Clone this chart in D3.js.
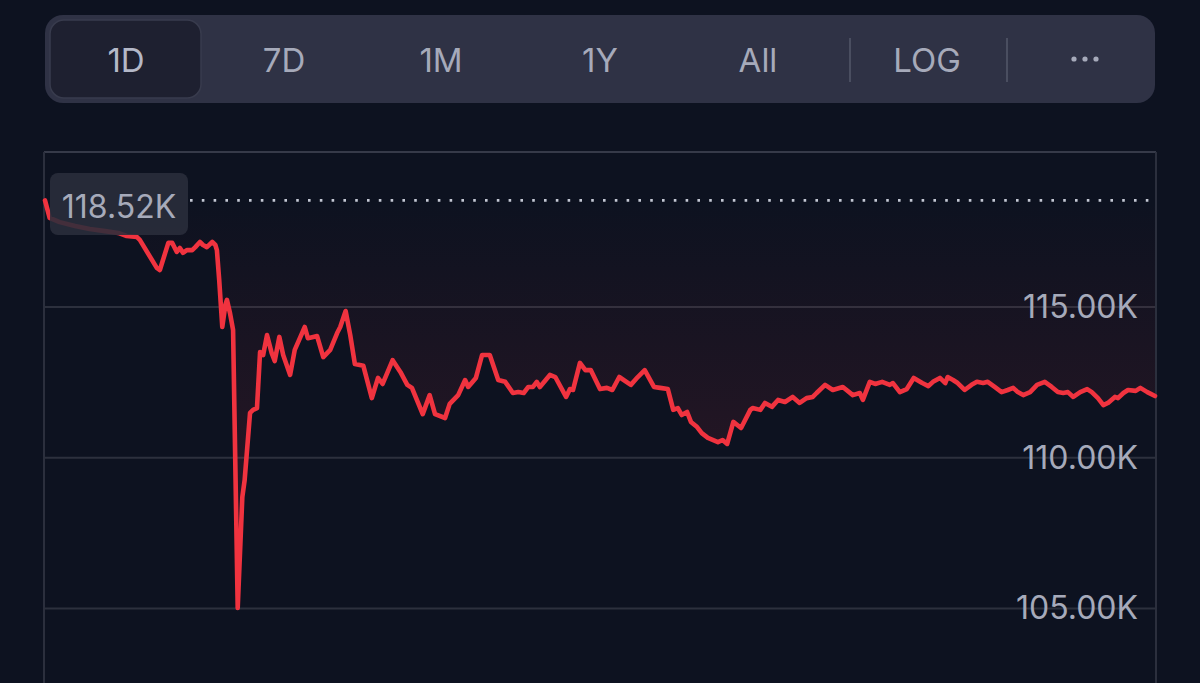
<!DOCTYPE html>
<html>
<head>
<meta charset="utf-8">
<script src="https://cdn.jsdelivr.net/npm/d3@7"></script>
<style>
  html, body { margin: 0; padding: 0; background: #0d1220; }
  svg { display: block; }
</style>
</head>
<body>
<svg id="chart" width="1200" height="683"></svg>
<script>
// ---- data ----
const ranges = ["1D", "7D", "1M", "1Y", "All"];
const scaleOption = "LOG";
const openPrice = 118520;
const openLabel = "118.52K";
const yTicks = [105000, 110000, 115000];
const yTickLabels = ["105.00K", "110.00K", "115.00K"];

// minutes since the start of the day
const minutes = [0,6,19,39,58,78,95,106,119,123,145,149,160,165,171,175,179,184,191,195,201,205,210,217,221,223,226,230,234,236,240,244,250,256,259,266,270,275,279,283,288,294,298,304,309,318,324,337,341,348,353,361,370,379,383,390,396,402,413,424,432,438,451,461,470,476,490,499,506,519,525,536,545,549,559,567,577,588,597,607,614,621,627,633,638,642,655,662,676,681,685,694,701,708,720,729,736,745,760,769,778,790,798,808,815,821,826,833,838,846,852,860,873,879,885,893,903,915,918,928,934,943,951,960,970,979,988,996,1001,1012,1022,1035,1048,1057,1061,1070,1077,1086,1096,1100,1109,1118,1127,1138,1146,1152,1161,1168,1171,1178,1184,1193,1202,1209,1217,1223,1232,1241,1249,1256,1262,1269,1278,1287,1297,1306,1314,1321,1327,1334,1343,1352,1358,1366,1373,1379,1388,1392,1399,1405,1415,1421,1430,1440];
// price in thousands of USD
const pricesK = [118.52,117.94,117.80,117.67,117.57,117.50,117.44,117.34,117.31,117.21,116.28,116.21,117.11,117.11,116.81,116.94,116.78,116.87,116.87,116.97,117.14,117.04,116.97,117.14,117.04,116.87,115.88,114.32,115.05,115.22,114.78,114.22,105.00,108.68,109.24,111.47,111.57,111.63,113.49,113.39,114.05,113.46,113.19,113.99,113.39,112.73,113.56,114.32,113.95,113.99,114.02,113.32,113.56,114.12,114.32,114.85,114.05,113.09,113.03,111.96,112.63,112.43,113.22,112.83,112.40,112.30,111.43,112.06,111.43,111.30,111.77,112.06,112.56,112.33,112.63,113.39,113.39,112.56,112.50,112.13,112.16,112.13,112.33,112.33,112.50,112.33,112.73,112.66,112.00,112.26,112.23,113.13,112.89,112.89,112.26,112.30,112.23,112.66,112.40,112.66,112.89,112.33,112.30,112.26,111.57,111.63,111.40,111.50,111.17,111.00,110.80,110.64,110.50,110.57,110.44,111.17,110.97,111.57,111.63,111.57,111.80,111.67,111.90,111.83,112.00,111.80,111.96,112.00,112.13,112.40,112.23,112.33,112.06,112.13,111.90,112.50,112.43,112.50,112.40,112.46,112.16,112.26,112.63,112.46,112.36,112.50,112.63,112.46,112.66,112.56,112.46,112.23,112.40,112.50,112.46,112.50,112.33,112.16,112.23,112.30,112.16,112.06,112.16,112.40,112.50,112.33,112.16,112.13,112.16,112.00,112.16,112.26,112.16,111.96,111.73,111.80,112.00,111.96,112.13,112.23,112.20,112.30,112.16,112.03];

// ---- drawing ----
const W = 1200, H = 683;
const svg = d3.select("#chart");
const FONT = "Inter, 'Noto Sans', sans-serif";
const textCol = "#a6aaba";

svg.append("rect").attr("width", W).attr("height", H).attr("fill", "#0d1220");

// toolbar
const bar = svg.append("g");
bar.append("rect").attr("x", 45).attr("y", 15).attr("width", 1110).attr("height", 88)
  .attr("rx", 18).attr("fill", "#2f3245");
bar.append("rect").attr("x", 50).attr("y", 20).attr("width", 151).attr("height", 78)
  .attr("rx", 14).attr("fill", "#1e2030").attr("stroke", "#383b4d").attr("stroke-width", 1.5);

const btnCenters = {"1D":126, "7D":284, "1M":441, "1Y":600, "All":758, "LOG":927, "more":1085};
ranges.concat([scaleOption]).forEach(r => {
  bar.append("text").attr("x", btnCenters[r]).attr("y", 60)
    .attr("text-anchor", "middle").attr("dominant-baseline", "central")
    .attr("font-family", FONT).attr("font-size", 33).attr("font-weight", 400)
    .attr("fill", r === "1D" ? "#b4b8c8" : textCol).text(r);
});
[850, 1007].forEach(xx => {
  bar.append("line").attr("x1", xx).attr("x2", xx).attr("y1", 38).attr("y2", 82)
    .attr("stroke", "#4a4e60").attr("stroke-width", 2);
});
[-11, 0, 11].forEach(dx => {
  bar.append("circle").attr("cx", btnCenters.more + dx).attr("cy", 59).attr("r", 2.6)
    .attr("fill", textCol);
});

// chart scales
const x = d3.scaleLinear().domain([0, 1440]).range([45, 1155]);
const y = d3.scaleLinear().domain([102508, 120126]).range([683, 152]);

const data = minutes.map((m, i) => ({m, v: pricesK[i] * 1000}));

// panel borders
const panel = svg.append("g");
panel.append("line").attr("x1", 44).attr("x2", 1156).attr("y1", 152).attr("y2", 152)
  .attr("stroke", "#363a49").attr("stroke-width", 2);
panel.append("line").attr("x1", 44).attr("x2", 44).attr("y1", 152).attr("y2", H)
  .attr("stroke", "#2b2f3d").attr("stroke-width", 2);
panel.append("line").attr("x1", 1156).attr("x2", 1156).attr("y1", 152).attr("y2", H)
  .attr("stroke", "#2b2f3d").attr("stroke-width", 2);

// gridlines
const yAxis = d3.axisRight(y).tickValues(yTicks).tickSize(1112).tickFormat("");
const gAxis = svg.append("g").attr("transform", "translate(44,0)").call(yAxis);
gAxis.select(".domain").remove();
gAxis.selectAll(".tick line").attr("stroke", "#2c303d").attr("stroke-width", 2);

// gradient for area
const defs = svg.append("defs");
const grad = defs.append("linearGradient").attr("id", "redfill")
  .attr("gradientUnits", "userSpaceOnUse")
  .attr("x1", 0).attr("x2", 0).attr("y1", y(openPrice)).attr("y2", y(110000));
grad.append("stop").attr("offset", 0).attr("stop-color", "#f23645").attr("stop-opacity", 0.0);
grad.append("stop").attr("offset", 1).attr("stop-color", "#f23645").attr("stop-opacity", 0.10);

const area = d3.area().x(d => x(d.m)).y0(y(openPrice)).y1(d => y(d.v));
svg.append("path").datum(data).attr("d", area).attr("fill", "url(#redfill)");

// dotted open line
svg.append("line").attr("x1", 190).attr("x2", 1156)
  .attr("y1", y(openPrice)).attr("y2", y(openPrice))
  .attr("stroke", "#c4c8d4").attr("stroke-width", 2.6)
  .attr("stroke-dasharray", "2.6 9.2");

// price line
const line = d3.line().x(d => x(d.m)).y(d => y(d.v));
svg.append("path").datum(data).attr("d", line)
  .attr("fill", "none").attr("stroke", "#f0333f").attr("stroke-width", 4.6)
  .attr("stroke-linejoin", "round").attr("stroke-linecap", "round");

// y tick labels
gAxis.selectAll(".tick text").remove();
yTicks.forEach((t, i) => {
  svg.append("text").attr("x", 1138).attr("y", y(t))
    .attr("text-anchor", "end").attr("dominant-baseline", "central")
    .attr("font-family", FONT).attr("font-size", 32)
    .attr("fill", textCol).text(yTickLabels[i]);
});

// open price label
svg.append("rect").attr("x", 50).attr("y", 173).attr("width", 138).attr("height", 62)
  .attr("rx", 8).attr("fill", "#2a2d3b").attr("fill-opacity", 0.88);
svg.append("text").attr("x", 119).attr("y", y(openPrice) + 6)
  .attr("text-anchor", "middle").attr("dominant-baseline", "central")
  .attr("font-family", FONT).attr("font-size", 32)
  .attr("fill", textCol).text(openLabel);
</script>
</body>
</html>
